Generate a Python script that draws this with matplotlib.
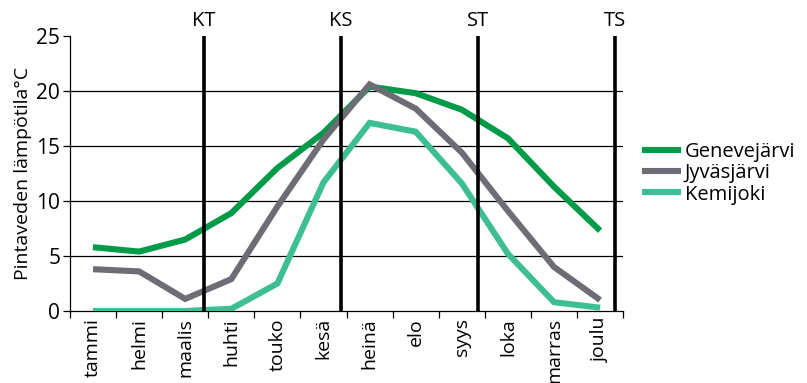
import numpy as np
import matplotlib.pyplot as plt
from matplotlib.ticker import FixedLocator

plt.rcParams['font.family'] = ['Open Sans', 'DejaVu Sans']

# month names on the x axis
months = ['tammi', 'helmi', 'maalis', 'huhti', 'touko', 'kesä',
          'heinä', 'elo', 'syys', 'loka', 'marras', 'joulu']

# surface water temperature, degrees C
geneve = [5.8, 5.4, 6.5, 8.9, 13.0, 16.2, 20.4, 19.8, 18.3, 15.7, 11.3, 7.3]
jyvas = [3.8, 3.6, 1.1, 2.9, 9.5, 15.6, 20.6, 18.4, 14.4, 9.1, 4.0, 1.0]
kemi = [0.0, 0.0, 0.0, 0.2, 2.5, 11.7, 17.1, 16.3, 11.6, 5.2, 0.8, 0.3]

# equinoxes and solstices (month index units)
events = ['KT', 'KS', 'ST', 'TS']
event_pos = [2.41, 5.38, 8.35, 11.33]

series = [('Genevejärvi', geneve, '#009b48'),
          ('Jyväsjärvi', jyvas, '#6d6e75'),
          ('Kemijoki', kemi, '#3dbf92')]

fig = plt.figure(figsize=(8.07, 3.83), dpi=100)
ax = fig.add_axes([0.0867, 0.188, 0.6855, 0.718])

x = np.arange(len(months))
for name, vals, col in series:
    ax.plot(x, vals, color=col, lw=4.4, label=name, zorder=3,
            solid_joinstyle='miter', solid_capstyle='butt')

for y in [5, 10, 15, 20]:
    ax.axhline(y, color='black', lw=0.9, zorder=1)

for lab, p in zip(events, event_pos):
    ax.axvline(p, color='black', lw=2.6, zorder=4)
    ax.text(p, 25.5, lab, ha='center', va='bottom', fontsize=14.5)

ax.set_xlim(-0.5, 11.5)
ax.set_ylim(0, 25)
ax.set_yticks([0, 5, 10, 15, 20, 25])
ax.set_xticks(x)
ax.set_xticklabels(months, rotation=90, fontsize=14)
ax.xaxis.set_minor_locator(FixedLocator(np.arange(-0.5, 12, 1)))
ax.tick_params(axis='x', which='major', length=0, pad=5)
ax.tick_params(axis='x', which='minor', length=5, width=0.9)
ax.tick_params(axis='y', length=5, width=0.9, labelsize=15, pad=2)
ax.set_ylabel('Pintaveden lämpötila°C', fontsize=14, labelpad=3)

for s in ['top', 'right']:
    ax.spines[s].set_visible(False)
for s in ['left', 'bottom']:
    ax.spines[s].set_linewidth(0.9)

ax.legend(loc='center left', bbox_to_anchor=(1.02, 0.5), frameon=False,
          fontsize=14.5, handlelength=1.9, handletextpad=0.2,
          labelspacing=0.05, borderaxespad=0)

fig.savefig('out.png', dpi=100)
